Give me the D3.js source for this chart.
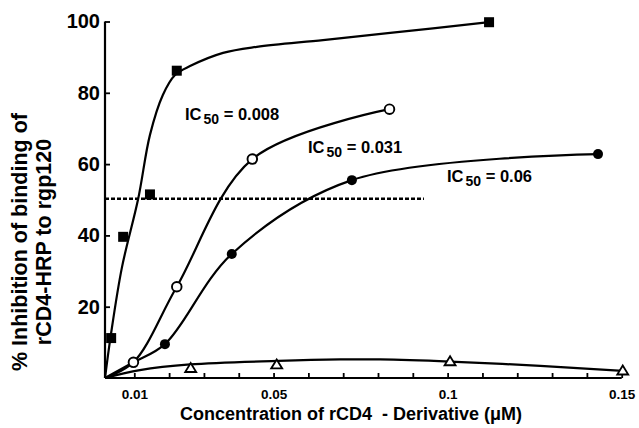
<!DOCTYPE html>
<html>
<head>
<meta charset="utf-8">
<script src="https://cdn.jsdelivr.net/npm/d3@7"></script>
<style>
  html, body { margin: 0; padding: 0; background: #fff; }
  svg { display: block; }
  text { font-family: "Liberation Sans", Arial, Helvetica, sans-serif; font-weight: bold; fill: #000; }
</style>
</head>
<body>
<svg id="chart" width="639" height="428"></svg>
<script>
// ---------- DATA ----------
// measured points, x in µM, y in % inhibition
const squareX = [0.0021, 0.0062, 0.0145, 0.0222, 0.1119];
const squareY = [11.2, 39.6, 51.5, 86.2, 99.8];
const openX = [0.0097, 0.0222, 0.0439, 0.0833];
const openY = [4.4, 25.6, 61.4, 75.4];
const filledX = [0.0188, 0.0380, 0.0725, 0.1432];
const filledY = [9.5, 34.8, 55.5, 62.8];
const triX = [0.0262, 0.0509, 0.1007, 0.1503];
const triY = [2.8, 3.8, 4.7, 2.1];

// hand-drawn fit curves as they appear in the picture
const squareFitX = [0, 0.0020, 0.0058, 0.0111, 0.0145, 0.0182, 0.0217, 0.0260, 0.0355, 0.0452, 0.0642, 0.0835, 0.1119];
const squareFitY = [0, 12.1, 31.1, 50.2, 68.2, 79.4, 85.0, 87.5, 91.2, 92.9, 94.8, 96.8, 99.8];
const openFitX = [0, 0.0097, 0.0222, 0.0439, 0.0833];
const openFitY = [0, 4.4, 25.6, 61.4, 75.4];
const filledFitX = [0, 0.0097, 0.0188, 0.0380, 0.0725, 0.1432];
const filledFitY = [0, 4.4, 9.5, 34.8, 55.5, 62.8];
const triFitX = [0, 0.0116, 0.0260, 0.0513, 0.0691, 0.0806, 0.1007, 0.1266, 0.1503];
const triFitY = [0, 2.2, 3.8, 4.8, 5.2, 5.2, 4.6, 3.4, 2.0];

// 50 % reference line
const halfLineX = [0, 0.0932];
const halfLineY = [50.3, 50.3];

// axes
const xTicks = [0.01, 0.02, 0.03, 0.04, 0.05, 0.06, 0.07, 0.08, 0.09, 0.10, 0.11, 0.12, 0.13, 0.14, 0.15];
const xTickLabels = {0.01: "0.01", 0.05: "0.05", 0.1: "0.1", 0.15: "0.15"};
const yTicks = [20, 40, 60, 80, 100];

const icLabels = ["0.008", "0.031", "0.06"];

// ---------- DRAW ----------
const svg = d3.select("#chart");
const x = d3.scaleLinear().domain([0, 0.01, 0.15]).range([105, 134.3, 621.7]);
const y = d3.scaleLinear().domain([0, 100]).range([378, 21.5]);

// axes
const xAxis = d3.axisBottom(x).tickValues(xTicks).tickSizeInner(-5).tickSizeOuter(0)
  .tickFormat(d => xTickLabels[+d.toFixed(2)] || "");
const gx = svg.append("g").attr("transform", `translate(0,${y(0)})`).call(xAxis);
gx.select(".domain").attr("d", `M${x(0)},0H${x(0.15)}`).attr("stroke", "#000").attr("stroke-width", 2.2);
gx.selectAll(".tick line").attr("stroke", "#000").attr("stroke-width", 1.8);
gx.selectAll(".tick text").attr("y", 11).attr("font-size", 13.5)
  .style("font-family", '"Liberation Sans", Arial, sans-serif').style("font-weight", "bold");

const yAxis = d3.axisLeft(y).tickValues(yTicks).tickSizeInner(-5).tickSizeOuter(0).tickFormat(d3.format("d"));
const gy = svg.append("g").attr("transform", `translate(${x(0)},0)`).call(yAxis);
gy.select(".domain").attr("d", `M0,${y(0)}V${y(100)}`).attr("stroke", "#000").attr("stroke-width", 2.2);
gy.selectAll(".tick line").attr("stroke", "#000").attr("stroke-width", 1.8);
gy.selectAll(".tick text").attr("x", -5).attr("font-size", 20)
  .style("font-family", '"Liberation Sans", Arial, sans-serif').style("font-weight", "bold");

// axis titles
svg.append("text").attr("x", 180).attr("y", 420).attr("text-anchor", "start")
  .attr("font-size", 18).style("white-space", "pre")
  .text("Concentration of rCD4  - Derivative (\u03BCM)");
const yt = svg.append("g").attr("transform", "translate(0,242) rotate(-90)");
yt.append("text").attr("x", 0).attr("y", 27).attr("text-anchor", "middle").attr("font-size", 21.5)
  .text("% Inhibition of binding of");
yt.append("text").attr("x", 0).attr("y", 51).attr("text-anchor", "middle").attr("font-size", 21.5)
  .text("rCD4-HRP to rgp120");

// dashed 50% line
svg.append("path")
  .attr("d", d3.line().x((d, i) => x(halfLineX[i])).y((d, i) => y(halfLineY[i]))(halfLineX))
  .attr("fill", "none").attr("stroke", "#000").attr("stroke-width", 2.6).attr("stroke-dasharray", "4,2");

// curves
const curve = (xs, ys) => d3.line().curve(d3.curveCatmullRom.alpha(0.5))
  .x((d, i) => x(xs[i])).y((d, i) => y(ys[i]))(xs);
[[squareFitX, squareFitY], [openFitX, openFitY], [filledFitX, filledFitY], [triFitX, triFitY]]
  .forEach(([xs, ys]) => svg.append("path").attr("d", curve(xs, ys))
    .attr("fill", "none").attr("stroke", "#000").attr("stroke-width", 2.2));

// markers
svg.append("g").selectAll("rect").data(squareX).join("rect")
  .attr("x", (d) => x(d) - 5).attr("y", (d, i) => y(squareY[i]) - 5)
  .attr("width", 10).attr("height", 10).attr("fill", "#000");
svg.append("g").selectAll("circle").data(filledX).join("circle")
  .attr("cx", d => x(d)).attr("cy", (d, i) => y(filledY[i])).attr("r", 5).attr("fill", "#000");
svg.append("g").selectAll("circle").data(openX).join("circle")
  .attr("cx", d => x(d)).attr("cy", (d, i) => y(openY[i])).attr("r", 4.8)
  .attr("fill", "#fff").attr("stroke", "#000").attr("stroke-width", 1.9);
svg.append("g").selectAll("path").data(triX).join("path")
  .attr("d", (d, i) => { const cx = x(d), cy = y(triY[i]); return `M${cx},${cy - 5}L${cx + 5.5},${cy + 4}L${cx - 5.5},${cy + 4}Z`; })
  .attr("fill", "#fff").attr("stroke", "#000").attr("stroke-width", 1.8);

// IC50 annotations
const icPos = [[185, 120], [308, 153], [447, 182]];
icLabels.forEach((v, i) => {
  const t = svg.append("text").attr("x", icPos[i][0]).attr("y", icPos[i][1]).attr("font-size", 16.5);
  t.append("tspan").text("IC");
  t.append("tspan").attr("dx", 2).attr("dy", 4).attr("font-size", 14).text("50");
  t.append("tspan").attr("dy", -4).text(" = " + v);
});
</script>
</body>
</html>
